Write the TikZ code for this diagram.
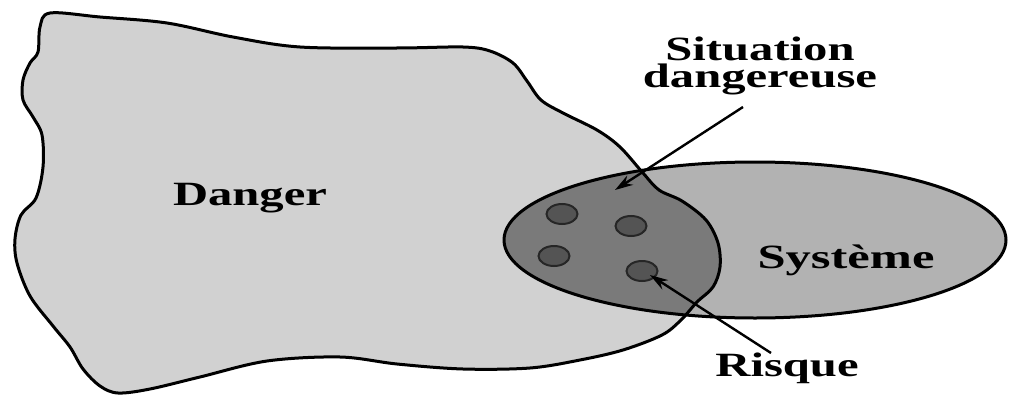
\documentclass[tikz,border=0pt]{standalone}
\usepackage{fontspec}
\setmainfont{Liberation Serif}
\usetikzlibrary{arrows.meta,shapes.geometric}
\definecolor{dangerfill}{gray}{0.82}
\definecolor{sysfill}{gray}{0.70}
\definecolor{overlapfill}{gray}{0.48}
\definecolor{dotfill}{gray}{0.33}
\tikzset{
  lbl/.style={font=\fontsize{34}{27}\selectfont\bfseries, xscale=1.43, inner sep=0pt, align=center},
  outline/.style={draw=black, line width=3pt},
  riskdot/.style={ellipse, draw=black!85, line width=2pt, fill=dotfill, minimum width=31pt, minimum height=20pt, inner sep=0pt},
  pointer/.style={draw=black, line width=2.4pt, -{Stealth[length=18pt,width=11pt]}}
}
\begin{document}
\begin{tikzpicture}[x=1pt,y=-1pt]
\useasboundingbox (0,0) rectangle (1009,396);
\def\blobpath{plot[smooth cycle, tension=0.55] coordinates {
 (50,13) (100,17) (167,23) (233,37) (300,47) (397,48) (463,47) (490,51) (513,63) (527,81) (541,100) (563,113) (597,130) (620,147) (643,173) (659,190) (682,201) (706,220) (718,243) (720,267) (713,287) (697,302) (681,320) (662,335) (623,350) (580,360) (530,368) (463,369) (397,364) (340,357) (267,361) (200,377) (150,389) (118,393) (100,386) (83,369) (70,347) (53,326) (30,296) (17,263) (15,239) (21,215) (36,198) (43,167) (42,135) (33,117) (23,100) (23,80) (30,63) (38,52) (40,27)}}
% shapes
\fill[dangerfill] \blobpath;
\fill[sysfill] (755,240) ellipse [x radius=251, y radius=78];
\begin{scope}
  \clip \blobpath;
  \fill[overlapfill] (755,240) ellipse [x radius=251, y radius=78];
\end{scope}
\draw[outline] (755,240) ellipse [x radius=251, y radius=78];
\draw[outline] \blobpath;
% risk dots
\node[riskdot] (d1) at (562,214) {};
\node[riskdot] (d2) at (631,226) {};
\node[riskdot] (d3) at (554,256) {};
\node[riskdot] (d4) at (642,271) {};
% labels
\node[lbl, anchor=base] (danger) at (250,205) {Danger};
\node[lbl, anchor=base, xscale=1.04] (systeme) at (846,268) {Système};
\node[lbl, anchor=base] (situation) at (760,88) {Situation\\dangereuse};
\node[lbl, anchor=base] (risque) at (787,376) {Risque};
% connectors
\coordinate (sdfrom) at (743,107);
\coordinate (sdtip) at (615,190);
\coordinate (rfrom) at (771,353);
\coordinate (rtip) at (650,275);
\draw[pointer] (sdfrom) -- (sdtip);
\draw[pointer] (rfrom) -- (rtip);
\end{tikzpicture}
\end{document}
